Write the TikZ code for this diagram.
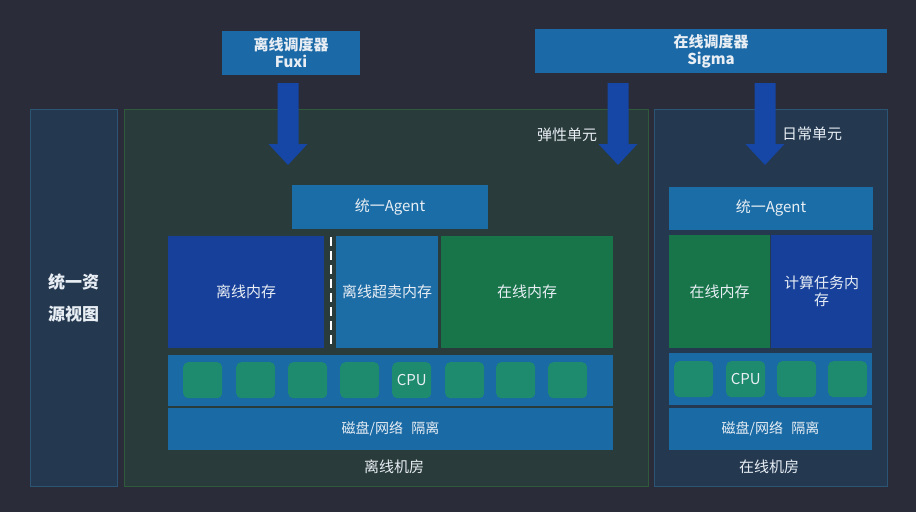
\documentclass[tikz,border=0pt]{standalone}
\usepackage{fontspec}
\setmainfont{Noto Sans CJK SC}
\newfontfamily\cjkb[BoldFont={Noto Sans CJK SC Bold}]{Noto Sans CJK SC}
\definecolor{bg}{HTML}{2B2C39}
\definecolor{schedblue}{HTML}{1B69A6}
\definecolor{agentblue}{HTML}{1A6DA7}
\definecolor{offmem}{HTML}{17409A}
\definecolor{overmem}{HTML}{1C6CA6}
\definecolor{onmem}{HTML}{18754A}
\definecolor{cpurow}{HTML}{1A6AA5}
\definecolor{cpucell}{HTML}{1E8B6E}
\definecolor{arrowblue}{HTML}{1646A6}
\definecolor{greenroom}{HTML}{293B3B}
\definecolor{greenedge}{HTML}{2F5A3C}
\definecolor{blueroom}{HTML}{243850}
\definecolor{blueedge}{HTML}{2C5475}
\definecolor{txt}{HTML}{E8EEF4}
\tikzset{
  rect/.style={anchor=north west, inner sep=0pt, outer sep=0pt, text=txt, align=center,
    font=\fontsize{15}{18}\selectfont},
  cell/.style={anchor=north west, inner sep=0pt, fill=cpucell, rounded corners=5pt,
    minimum width=39pt, minimum height=36pt, text=txt, font=\fontsize{15}{18}\selectfont},
  lbl/.style={text=txt, font=\fontsize{15}{18}\selectfont, inner sep=0pt},
  barrow/.style={fill=arrowblue},
}
\begin{document}
\begin{tikzpicture}[x=1pt,y=-1pt]
\fill[bg] (0,0) rectangle (916,512);
\useasboundingbox (0,0) rectangle (916,512);

% big areas
\node[rect, fill=blueroom, draw=blueedge, line width=0.8pt, minimum width=87pt, minimum height=377pt,
  font=\fontsize{17}{32}\selectfont\bfseries] (view) at (30,109) {统一资\\源视图};
\node[rect, fill=greenroom, draw=greenedge, line width=0.8pt, minimum width=524pt, minimum height=377pt] (offroom) at (124,109) {};
\node[rect, fill=blueroom, draw=blueedge, line width=0.8pt, minimum width=233pt, minimum height=377pt] (onroom) at (654,109) {};

% schedulers
\node[rect, fill=schedblue, minimum width=138pt, minimum height=44pt,
  font=\fontsize{15}{17}\selectfont\bfseries] (fuxi) at (222,31) {离线调度器\\Fuxi};
\node[rect, fill=schedblue, minimum width=352pt, minimum height=44pt,
  font=\fontsize{15}{17}\selectfont\bfseries] (sigma) at (535,29) {在线调度器\\Sigma};

% block arrows
\coordinate (a1) at (288,83);
\coordinate (a2) at (618,83);
\coordinate (a3) at (765,83);
\foreach \c in {a1,a2,a3}{
  \fill[barrow] ([xshift=-10.5pt]\c) -- ([xshift=10.5pt]\c) -- ([xshift=10.5pt,yshift=-61pt]\c)
    -- ([xshift=19.5pt,yshift=-61pt]\c) -- ([yshift=-82pt]\c) -- ([xshift=-19.5pt,yshift=-61pt]\c)
    -- ([xshift=-10.5pt,yshift=-61pt]\c) -- cycle;
}
\node[lbl] (elastic) at (567,135) {弹性单元};
\node[lbl] (daily) at (812,134) {日常单元};

% offline room contents
\node[rect, fill=agentblue, minimum width=196pt, minimum height=44pt] (agent1) at (292,185) {统一Agent};
\node[rect, fill=offmem, minimum width=156pt, minimum height=112pt] (offm) at (168,236) {离线内存};
\node[rect, fill=overmem, minimum width=102pt, minimum height=112pt] (overm) at (336,236) {离线超卖内存};
\node[rect, fill=onmem, minimum width=172pt, minimum height=112pt] (onm1) at (441,236) {在线内存};
\coordinate (d1) at (331,237);
\coordinate (d2) at (331,348);
\draw[white, line width=2.2pt, dash pattern=on 9pt off 5pt] (d1) -- (d2);

\node[rect, fill=cpurow, minimum width=445pt, minimum height=51pt] (cpu1) at (168,355) {};
\foreach \x/\t in {183/,236/,288/,340/,392/CPU,445/,496/,548/}{
  \node[cell] at (\x,362) {\t};
}
\node[rect, fill=cpurow, minimum width=445pt, minimum height=42pt,
  font=\fontsize{14}{17}\selectfont] (disk1) at (168,408) {磁盘/网络\hspace{0.6em}隔离};
\node[lbl] (offlbl) at (394,467) {离线机房};

% online room contents
\node[rect, fill=agentblue, minimum width=204pt, minimum height=43pt] (agent2) at (669,187) {统一Agent};
\node[rect, fill=onmem, minimum width=101pt, minimum height=113pt] (onm2) at (669,235) {在线内存};
\node[rect, fill=offmem, minimum width=101pt, minimum height=113pt,
  font=\fontsize{15}{17}\selectfont] (calc) at (771,235) {计算任务内\\存};
\node[rect, fill=cpurow, minimum width=203pt, minimum height=52pt] (cpu2) at (669,353) {};
\foreach \x/\t in {674/,726/CPU,777/,828/}{
  \node[cell] at (\x,361) {\t};
}
\node[rect, fill=cpurow, minimum width=203pt, minimum height=42pt,
  font=\fontsize{14}{17}\selectfont] (disk2) at (669,408) {磁盘/网络\hspace{0.6em}隔离};
\node[lbl] (onlbl) at (769,467) {在线机房};
\end{tikzpicture}
\end{document}
